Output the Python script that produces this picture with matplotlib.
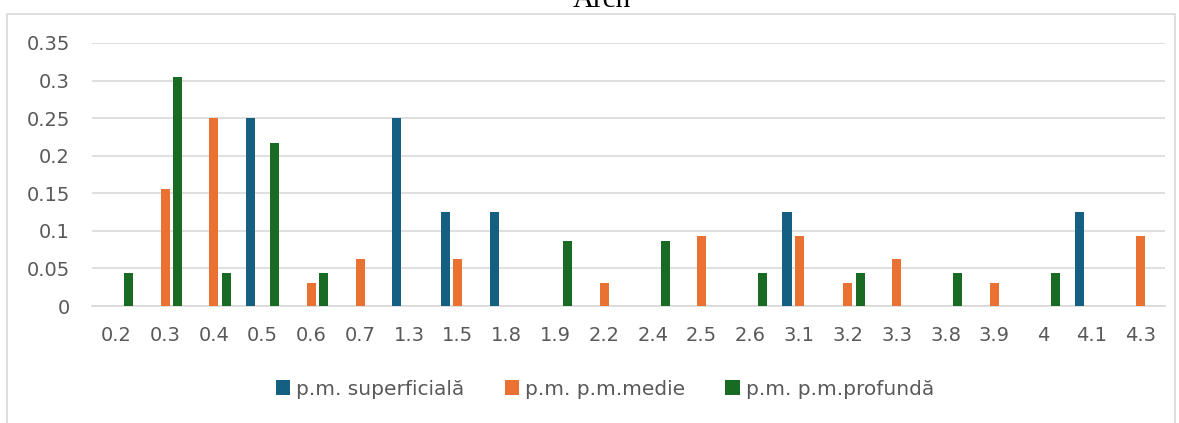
import numpy as np
import matplotlib.pyplot as plt
from matplotlib.patches import Rectangle

# Data
categories = ['0.2', '0.3', '0.4', '0.5', '0.6', '0.7', '1.3', '1.5', '1.8', '1.9', '2.2',
              '2.4', '2.5', '2.6', '3.1', '3.2', '3.3', '3.8', '3.9', '4', '4.1', '4.3']
superficiala = [0, 0, 0, 0.25, 0, 0, 0.25, 0.125, 0.125, 0, 0,
                0, 0, 0, 0.125, 0, 0, 0, 0, 0, 0.125, 0]
medie = [0, 0.15625, 0.25, 0, 0.03125, 0.0625, 0, 0.0625, 0, 0, 0.03125,
         0, 0.09375, 0, 0.09375, 0.03125, 0.0625, 0, 0.03125, 0, 0, 0.09375]
profunda = [0.0435, 0.3043, 0.0435, 0.2174, 0.0435, 0, 0, 0, 0, 0.087, 0,
            0.087, 0, 0.0435, 0, 0.0435, 0, 0.0435, 0, 0.0435, 0, 0]
series_names = ['p.m. superficială', 'p.m. p.m.medie', 'p.m. p.m.profundă']
colors = ['#156082', '#E97132', '#196B24']

my_dpi = 100
fig = plt.figure(figsize=(1179/my_dpi, 423/my_dpi), dpi=my_dpi)
ax = fig.add_axes([92/1179, 1-306/423, (1165-92)/1179, (306-43)/423])

ind = np.arange(len(categories))
width = 0.185
offsets = [-0.25, 0, 0.25]
handles = []
for vals, off, col, name in zip([superficiala, medie, profunda], offsets, colors, series_names):
    h = ax.bar(ind + off, vals, width, color=col, label=name, zorder=3)
    handles.append(h)

ax.set_xlim(-0.5, len(categories) - 0.5)
ax.set_ylim(0, 0.35)
ax.set_yticks([0, 0.05, 0.1, 0.15, 0.2, 0.25, 0.3, 0.35])
ax.set_yticklabels(['0', '0.05', '0.1', '0.15', '0.2', '0.25', '0.3', '0.35'])
ax.set_xticks(ind)
ax.set_xticklabels(categories)
ax.tick_params(length=0, labelsize=14, colors='#595959')
ax.tick_params(axis='y', pad=16)
ax.tick_params(axis='x', pad=14.5)
ax.grid(axis='y', color='#D9D9D9', linewidth=1.2, zorder=0)
for s in ['top', 'right', 'left']:
    ax.spines[s].set_visible(False)
ax.spines['bottom'].set_color('#D9D9D9')
ax.spines['bottom'].set_linewidth(1.2)

# Legend
fig.legend(handles=handles, loc='center', bbox_to_anchor=(605/1179, 1-389/423), ncol=3,
           frameon=False, handlelength=0.7, handleheight=0.7, handletextpad=0.3,
           columnspacing=2.0, prop={'family': 'DejaVu Sans', 'size': 14.5}, labelcolor='#595959')

# Chart border
fig.patches.append(Rectangle((7/1179, -0.05), (1175-7)/1179, 1.05 - 14/423,
                             transform=fig.transFigure, fill=False,
                             edgecolor='#D9D9D9', linewidth=1.2))

# Title (cut off at top, as in the original)
fig.text(602/1179, 1-7/423, 'Arch', ha='center', va='baseline',
         fontfamily='Liberation Serif', fontsize=21, color='black')

plt.savefig('out.png', dpi=my_dpi)
